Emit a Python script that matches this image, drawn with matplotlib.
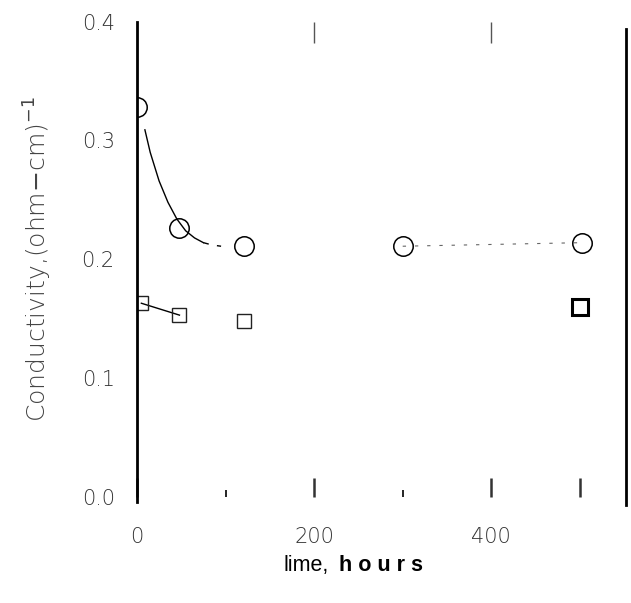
import matplotlib
matplotlib.use("Agg")
import matplotlib.pyplot as plt
from matplotlib.patches import Rectangle

# Data
circle_t = [0, 48, 121, 300, 502]
circle_c = [0.328, 0.226, 0.211, 0.211, 0.214]

square_t = [5, 48, 121, 500]
square_c = [0.163, 0.153, 0.148, 0.160]

fit_t = [9, 15, 25, 35, 45, 55, 65, 75]
fit_c = [0.309, 0.290, 0.266, 0.248, 0.234, 0.224, 0.218, 0.214]
fit_dash_t = [75, 85, 95]
fit_dash_c = [0.214, 0.212, 0.211]

x_major = [0, 200, 400, 500]
x_major_labels = ['0', '200', '400', '']
x_minor = [100, 300]
x_top = [200, 400]
y_ticks = [0.0, 0.1, 0.2, 0.3, 0.4]

plt.rcParams['font.family'] = ['DejaVu Sans']

fig = plt.figure(figsize=(6.31, 6.03), dpi=100)
ax = fig.add_axes([0.217, 0.176, 0.775, 0.788])
ax.set_xlim(0, 552)
ax.set_ylim(0, 0.4)
ax.patch.set_alpha(0)

for s in ['top', 'bottom']:
    ax.spines[s].set_visible(False)
ax.spines['left'].set_linewidth(2)
ax.spines['right'].set_linewidth(2)
ax.spines['left'].set_bounds(-0.004, 0.4)
ax.spines['right'].set_bounds(-0.007, 0.394)
ax.spines['left'].set_zorder(6)

# fitted curve
ax.plot(fit_t, fit_c, color='black', lw=1.0)
ax.plot(fit_dash_t, fit_dash_c, color='black', lw=1.0, ls=(0, (4, 6)))
# dashed line between long-time circles
ax.plot(circle_t[3:], circle_c[3:], color='black', lw=0.8, ls=(0, (3, 8)), alpha=0.6)
# square series line
ax.plot(square_t[:2], square_c[:2], color='black', lw=1.0)

ax.plot(circle_t, circle_c, 'o', mfc='none', mec='black', ms=14, mew=1.1, zorder=3)
ax.plot(square_t[:3], square_c[:3], 's', mfc='none', mec='#222222', ms=10, mew=1.0, zorder=3)
ax.plot(square_t[3:], square_c[3:], 's', mfc='none', mec='black', ms=11, mew=2.2, zorder=3)

# mask anything spilling left of the axis line (the first circle is cut by it)
mask = Rectangle((-0.045, 0.1), 0.045, 0.85, transform=ax.transAxes,
                 facecolor='white', edgecolor='none', zorder=5)
mask.set_clip_on(False)
ax.add_artist(mask)

tickfont = dict(family='DejaVu Sans', weight='light', size=15, color='#333333')
ax.set_yticks(y_ticks)
ax.set_yticklabels([f"{v:.1f}" for v in y_ticks], **tickfont)
ax.tick_params(axis='y', length=0, pad=16)

ax.set_xticks(x_major)
ax.set_xticks(x_minor, minor=True)
ax.set_xticklabels(x_major_labels, **tickfont)
ax.tick_params(axis='x', which='major', direction='in', length=14, width=1.8, pad=22,
               color='#333333')
ax.tick_params(axis='x', which='minor', direction='in', length=5, width=1.2)

top = ax.secondary_xaxis('top')
top.set_xticks(x_top)
top.set_xticklabels([])
top.tick_params(direction='in', length=15, width=1.0, color='#555555')
top.spines['top'].set_visible(False)

ax.set_ylabel("Conductivity,(ohm$-$cm)$^{-1}$", fontsize=18, color='#444444', labelpad=20,
              fontweight='light')

fig.text(0.449, 0.063, "lime,", fontsize=15.5, family='Liberation Sans', ha='left', va='center')
fig.text(0.537, 0.063, "h o u r s", fontsize=15.5, family='Liberation Sans', fontweight='bold',
         ha='left', va='center')

fig.savefig("out.png", dpi=100)
